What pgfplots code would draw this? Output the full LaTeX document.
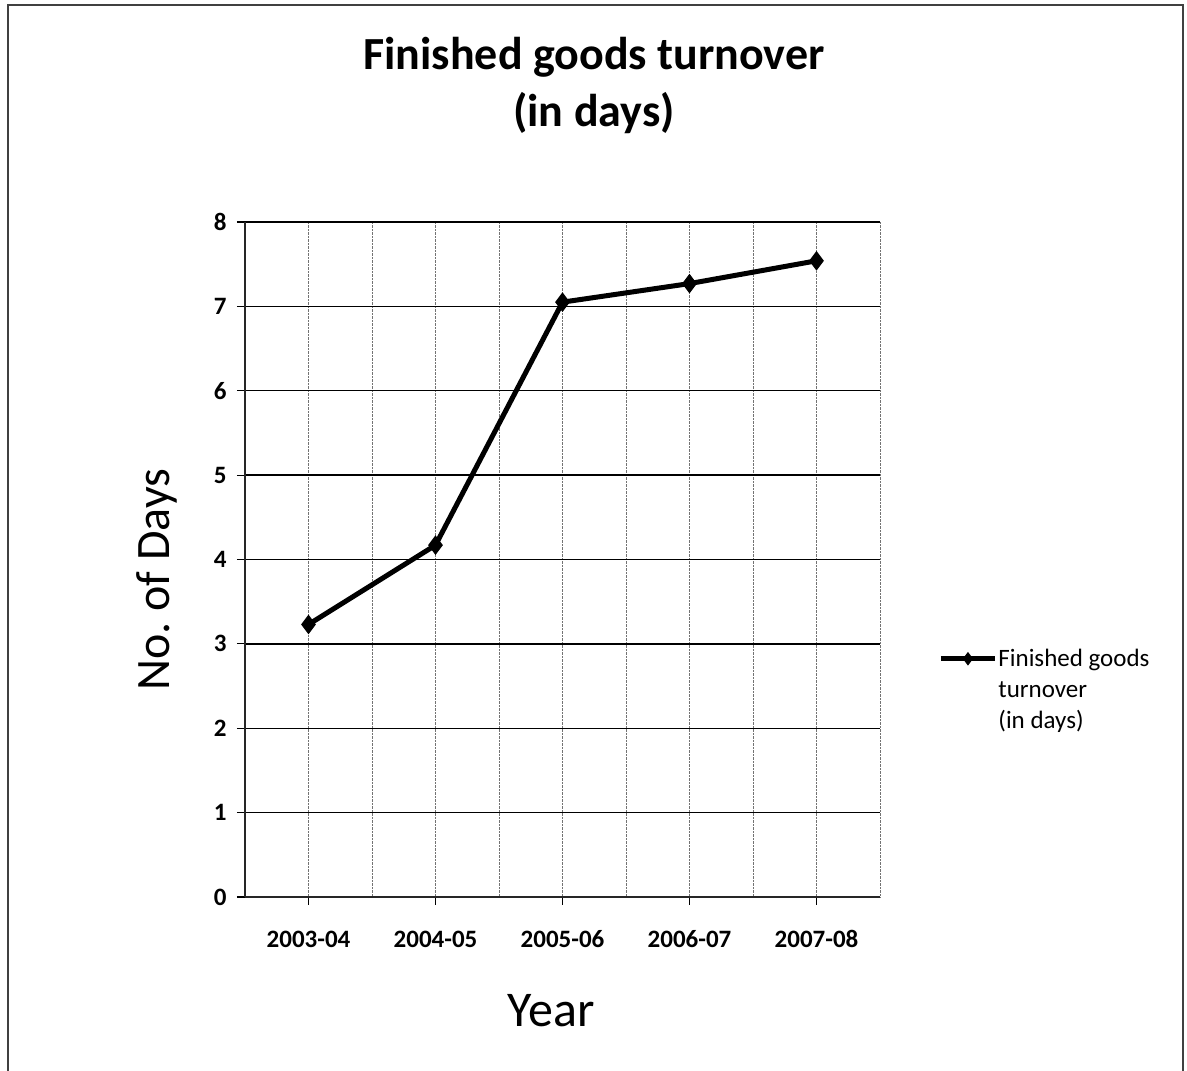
\documentclass[border=0pt]{standalone}
\usepackage{pgfplots}
\pgfplotsset{compat=1.18}
\usepackage{fontspec}
\setmainfont{Carlito}

\begin{document}
\begin{tikzpicture}[x=1pt,y=1pt]
  % page area and outer frame
  \useasboundingbox (0,0) rectangle (1187,1071);
  \draw[black!75, line width=1.2pt] (8,-5) -- (8,1066) -- (1183,1066) -- (1183,-5);

  % chart title
  \node[font=\fontsize{46}{52}\selectfont\bfseries] at (594,1014) {Finished goods turnover};
  \node[font=\fontsize{46}{52}\selectfont\bfseries] at (594,958) {(in days)};

  \begin{axis}[
    at={(245pt,174pt)}, anchor=south west,
    scale only axis, width=635pt, height=675pt,
    xmin=-0.5, xmax=4.5, ymin=0, ymax=8,
    xtick={0,1,2,3,4},
    xticklabels={2003-04,2004-05,2005-06,2006-07,2007-08},
    minor xtick={-0.5,0.5,1.5,2.5,3.5,4.5},
    ytick={0,1,...,8},
    axis lines=left, axis line style={-, line width=1.4pt, black!85},
    tick align=outside, major tick length=8pt,
    tick style={black, line width=1.2pt},
    minor tick length=0pt,
    xmajorgrids, xminorgrids, ymajorgrids,
    major x grid style={black!55, densely dotted, line width=1pt},
    minor x grid style={black!55, densely dotted, line width=1pt},
    major y grid style={black, line width=1.4pt},
    /pgf/number format/assume math mode=true,
    ticklabel style={font=\fontsize{25}{30}\selectfont\bfseries},
    xticklabel style={anchor=base, yshift=-43pt},
    yticklabel style={xshift=-7pt},
    xlabel={Year}, ylabel={No.\ of Days},
    xlabel style={font=\fontsize{50}{56}\selectfont, at={(axis description cs:0.482,-0.169)}, anchor=center},
    ylabel style={font=\fontsize{48}{54}\selectfont, at={(axis description cs:-0.139,0.47)}, anchor=center},
    legend style={at={(axis description cs:1.087,0.307)}, anchor=west, draw=none, fill=none,
      font=\fontsize{25}{31}\selectfont, nodes={align=left, inner sep=1pt}},
    legend image code/.code={\draw[mark repeat=2, mark phase=2, #1, mark size=6pt]
      plot coordinates {(0pt,31pt) (27pt,31pt) (54pt,31pt)};},
    clip=false,
  ]
    \addplot[black, line width=5pt, mark=diamond*, mark size=9pt,
      mark options={solid, fill=black, line width=1pt}]
      coordinates {(0,3.23) (1,4.17) (2,7.05) (3,7.27) (4,7.54)};
    \addlegendentry{Finished goods\\turnover\\(in days)}
  \end{axis}
\end{tikzpicture}
\end{document}
